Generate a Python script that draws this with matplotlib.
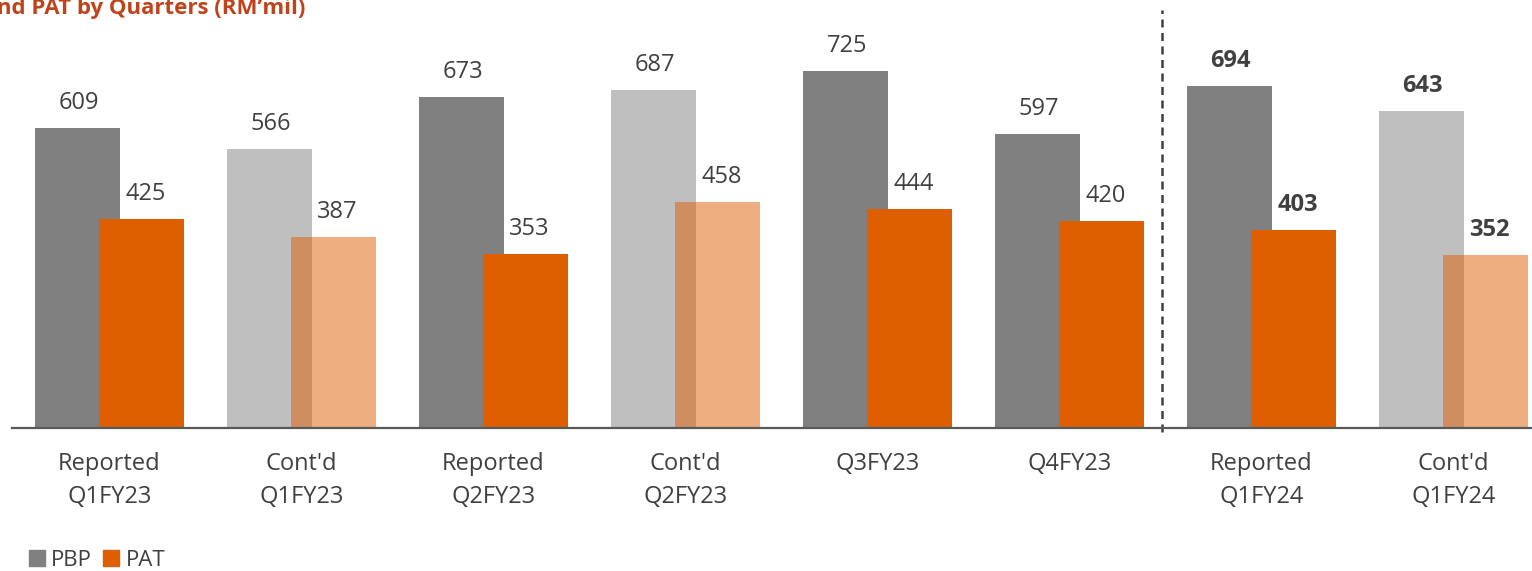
import numpy as np
import matplotlib.pyplot as plt
from matplotlib.patches import Patch

plt.rcParams['font.family'] = ['Open Sans', 'DejaVu Sans']

# Data
categories = ["Reported\nQ1FY23", "Cont'd\nQ1FY23", "Reported\nQ2FY23", "Cont'd\nQ2FY23",
              "Q3FY23", "Q4FY23", "Reported\nQ1FY24", "Cont'd\nQ1FY24"]
pbp = [609, 566, 673, 687, 725, 597, 694, 643]
pat = [425, 387, 353, 458, 444, 420, 403, 352]
# continuing-operations columns are drawn faded
faded = [False, True, False, True, False, False, False, True]
bold_labels = [False] * 6 + [True, True]

gray = '#808080'
orange = '#DE5F00'
text_col = '#404040'

fig = plt.figure(figsize=(15.32, 5.71), dpi=100)
ax = fig.add_axes([12 / 1532, 143 / 571, 1520 / 1532, 428 / 571])

x = np.arange(len(categories))
w = 0.443
off = 0.1667

for i in x:
    a = 0.5 if faded[i] else 1.0
    ax.bar(x[i] - off, pbp[i], w, color=gray, alpha=a, linewidth=0, zorder=2)
    ax.bar(x[i] + off, pat[i], w, color=orange, alpha=a, linewidth=0, zorder=3)
    fw = 'bold' if bold_labels[i] else 'normal'
    ax.annotate(str(pbp[i]), (x[i] - off, pbp[i]), xytext=(1, 18), textcoords='offset points',
                ha='center', va='center', fontsize=17, color=text_col, fontweight=fw)
    ax.annotate(str(pat[i]), (x[i] + off, pat[i]), xytext=(3, 18), textcoords='offset points',
                ha='center', va='center', fontsize=17, color=text_col, fontweight=fw)

ax.set_xlim(-0.508, 7.409)
ax.set_ylim(0, 869)

# separator between FY23 and FY24
ax.axvline(5.482, ymin=-0.01, ymax=(428 - 10) / 428, color='#404040', linestyle=(0, (3.2, 2.2)),
           linewidth=1.8, clip_on=False, zorder=4)

for s in ['top', 'right', 'left']:
    ax.spines[s].set_visible(False)
ax.spines['bottom'].set_color('#595959')
ax.spines['bottom'].set_linewidth(1.6)
ax.spines['bottom'].set_zorder(5)
ax.set_yticks([])
ax.set_xticks(x)
ax.set_xticklabels(categories, fontsize=17, color=text_col, linespacing=1.5)
ax.tick_params(axis='x', length=0, pad=17)

fig.text(305 / 1532, 1 - 14 / 571, "PBP and PAT by Quarters (RM\u2019mil)", ha='right', va='baseline',
         fontsize=16, fontweight='bold', color='#C0431C')

handles = [Patch(color=gray, label='PBP'), Patch(color=orange, label='PAT')]
fig.legend(handles=handles, loc='lower left', bbox_to_anchor=(9 / 1532, -20 / 571), ncol=2,
           frameon=False, fontsize=16, handlelength=0.7, handleheight=0.7, handletextpad=0.3,
           columnspacing=0.5, labelcolor=text_col)

fig.savefig('out.png', dpi=100)
